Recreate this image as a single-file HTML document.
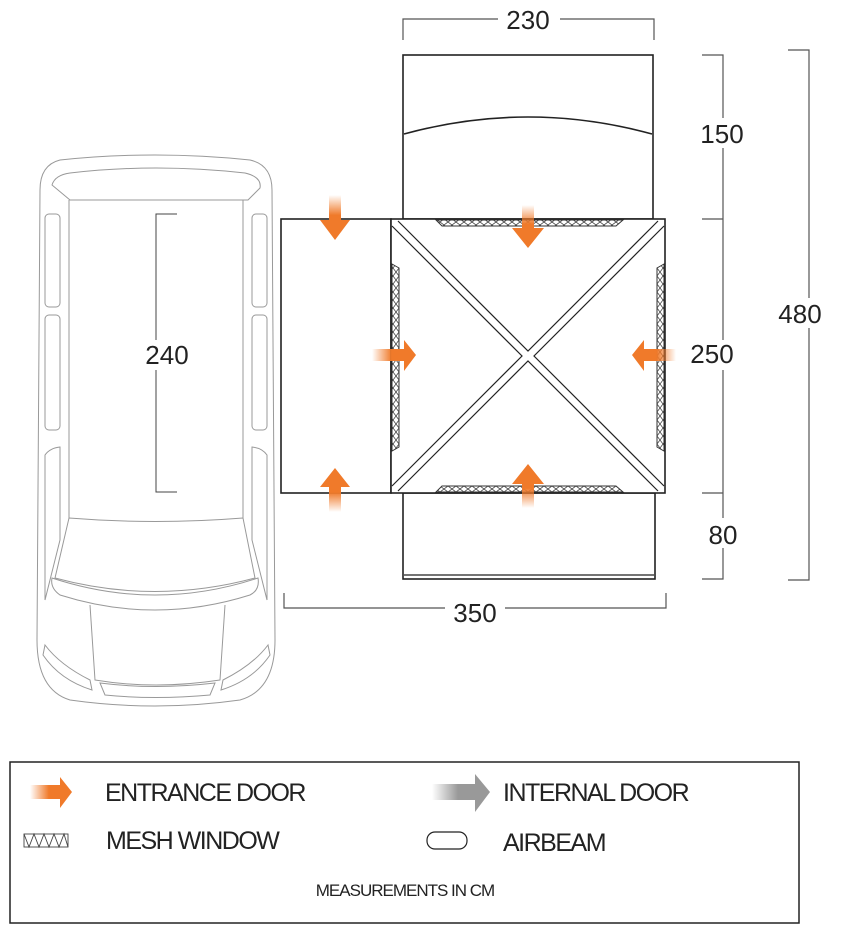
<!DOCTYPE html>
<html><head><style>
html,body{margin:0;padding:0;background:#fff;}
svg{display:block;}
text{font-family:"Liberation Sans",sans-serif;fill:#222;}
</style></head><body>
<svg width="860" height="937" viewBox="0 0 860 937" xmlns="http://www.w3.org/2000/svg">
<defs>
<pattern id="mesh" width="8" height="6" patternUnits="userSpaceOnUse">
<rect width="8" height="6" fill="#fff"/>
<path d="M0 0 L8 6 M8 0 L0 6" stroke="#444" stroke-width="0.8"/>
</pattern>
<pattern id="meshv" width="6" height="8" patternUnits="userSpaceOnUse">
<rect width="6" height="8" fill="#fff"/>
<path d="M0 0 L6 8 M6 0 L0 8" stroke="#444" stroke-width="0.8"/>
</pattern>
<linearGradient id="gR" x1="0" y1="0" x2="1" y2="0"><stop offset="0" stop-color="#f07a2a" stop-opacity="0"/><stop offset="0.45" stop-color="#f07a2a"/></linearGradient>
<linearGradient id="gL" x1="1" y1="0" x2="0" y2="0"><stop offset="0" stop-color="#f07a2a" stop-opacity="0"/><stop offset="0.45" stop-color="#f07a2a"/></linearGradient>
<linearGradient id="gD" x1="0" y1="0" x2="0" y2="1"><stop offset="0" stop-color="#f07a2a" stop-opacity="0"/><stop offset="0.45" stop-color="#f07a2a"/></linearGradient>
<linearGradient id="gU" x1="0" y1="1" x2="0" y2="0"><stop offset="0" stop-color="#f07a2a" stop-opacity="0"/><stop offset="0.45" stop-color="#f07a2a"/></linearGradient>
<linearGradient id="gG" x1="0" y1="0" x2="1" y2="0"><stop offset="0" stop-color="#999" stop-opacity="0"/><stop offset="0.45" stop-color="#999"/></linearGradient>
</defs>

<!-- Car -->
<g fill="none" stroke="#999" stroke-width="1">
<path d="M60 160 Q155 150 250 160 Q272 165 272 190 L275 640 Q275 690 240 700 Q155 712 70 700 Q37 690 37 640 L40 190 Q40 165 60 160 Z"/>
<path d="M52 185 Q55 175 70 173 Q155 163 245 173 Q262 177 260 188 L248 200 L70 200 Z"/>
<path d="M69 200 L69 518 M243 200 L243 518"/>
<path d="M69 518 Q155 525 243 518 L255 578 Q155 605 55 578 Z"/>
<path d="M52 578 Q155 612 258 578 Q260 590 250 595 Q155 625 60 595 Q50 588 52 578 Z"/>
<path d="M90 605 L95 680 Q155 690 220 680 L225 605"/>
<path d="M100 683 Q155 690 215 683 L210 695 Q155 700 105 695 Z"/>
<path d="M45 645 Q60 665 90 680 L92 690 Q60 680 43 655 Z"/>
<path d="M268 645 Q253 665 223 680 L221 690 Q253 680 270 655 Z"/>
<rect x="45" y="214" width="15" height="93" rx="4"/>
<rect x="45" y="315" width="15" height="115" rx="4"/>
<path d="M45 455 Q50 448 60 447 L60 540 L45 600 Z"/>
<rect x="252" y="214" width="15" height="93" rx="4"/>
<rect x="252" y="315" width="15" height="115" rx="4"/>
<path d="M267 455 Q262 448 252 447 L252 540 L267 600 Z"/>
</g>
<!-- 240 dim -->
<path d="M177 214 L156 214 L156 492 L177 492" fill="none" stroke="#444" stroke-width="1"/>
<rect x="138" y="340" width="40" height="30" fill="#fff"/>
<text x="167" y="364" font-size="26" text-anchor="middle">240</text>

<!-- Tent -->
<g stroke="#222" stroke-width="1.6" fill="#fff">
<rect x="403" y="55" width="250" height="164"/>
<rect x="281" y="219" width="110" height="274"/>
<rect x="403" y="493" width="252" height="86"/>
<rect x="391" y="219" width="274" height="274"/>
</g>
<path d="M404 134 Q528 100 652 134" fill="none" stroke="#222" stroke-width="1.6"/>
<line x1="404" y1="575" x2="654" y2="575" stroke="#222" stroke-width="1.2"/>
<!-- X beams -->
<g stroke="#222" stroke-width="1.2" fill="none">
<path d="M398 221 L528 351 L658 221"/>
<path d="M392 226 L522 356 L392 486"/>
<path d="M398 491 L528 361 L658 491"/>
<path d="M664 226 L534 356 L664 486"/>
</g>
<!-- mesh windows -->
<g stroke="#333" stroke-width="1">
<path d="M436 220 L623 220 L616 226 L442 226 Z" fill="url(#mesh)"/>
<path d="M436 492 L623 492 L616 486 L442 486 Z" fill="url(#mesh)"/>
<path d="M392 264 L399 268 L399 447 L392 451 Z" fill="url(#meshv)"/>
<path d="M664 264 L657 268 L657 447 L664 451 Z" fill="url(#meshv)"/>
</g>
<!-- Orange arrows -->
<g>
<path d="M329 195 L341 195 L341 220 L350 220 L335 240 L320 220 L329 220 Z" fill="url(#gD)"/>
<path d="M522 205 L534 205 L534 228 L544 228 L528 248 L512 228 L522 228 Z" fill="url(#gD)"/>
<path d="M329 512 L341 512 L341 487 L350 487 L335 468 L320 487 L329 487 Z" fill="url(#gU)"/>
<path d="M522 508 L534 508 L534 484 L544 484 L528 464 L512 484 L522 484 Z" fill="url(#gU)"/>
<path d="M372 349 L404 349 L404 340 L416 355 L404 371 L404 361 L372 361 Z" fill="url(#gR)"/>
<path d="M676 349 L644 349 L644 340 L632 355 L644 371 L644 361 L676 361 Z" fill="url(#gL)"/>
</g>

<!-- Dimensions -->
<g fill="none" stroke="#555" stroke-width="1.2">
<path d="M403 40 L403 19 L654 19 L654 40"/>
<path d="M702 55 L723 55 L723 579 L702 579"/>
<path d="M702 219 L723 219 M702 493 L723 493"/>
<path d="M788 50 L809 50 L809 580 L788 580"/>
<path d="M284 593 L284 608 L666 608 L666 593"/>
</g>
<g fill="#fff">
<rect x="498" y="5" width="62" height="30"/>
<rect x="695" y="118" width="55" height="30"/>
<rect x="685" y="340" width="55" height="30"/>
<rect x="700" y="518" width="45" height="30"/>
<rect x="770" y="298" width="60" height="30"/>
<rect x="445" y="595" width="60" height="28"/>
</g>
<g font-size="26" text-anchor="middle">
<text x="528" y="29">230</text>
<text x="722" y="143">150</text>
<text x="712" y="363">250</text>
<text x="723" y="544">80</text>
<text x="800" y="323">480</text>
<text x="475" y="622">350</text>
</g>

<!-- Legend -->
<rect x="10" y="762" width="789" height="161" fill="#fff" stroke="#222" stroke-width="1.5"/>
<path d="M30 785 L60 785 L60 777 L72 792 L60 808 L60 799 L30 799 Z" fill="url(#gR)"/>
<path d="M432 784 L475 784 L475 774 L490 792 L475 812 L475 800 L432 800 Z" fill="url(#gG)"/>
<g fill="none" stroke="#444" stroke-width="0.9">
<rect x="24" y="834" width="44" height="13"/>
<path d="M24 834 L29 847 L34 834 L39 847 L44 834 L49 847 L54 834 L59 847 L64 834 L68 847"/>
</g>
<rect x="427" y="832" width="40" height="17" rx="8" fill="#fff" stroke="#222" stroke-width="1.2"/>
<g font-size="25" style="letter-spacing:-1.5px">
<text x="105" y="801">ENTRANCE DOOR</text>
<text x="503" y="801">INTERNAL DOOR</text>
<text x="106" y="849">MESH WINDOW</text>
<text x="503" y="851">AIRBEAM</text>
</g>
<text x="405" y="896" font-size="17" text-anchor="middle" style="letter-spacing:-1px">MEASUREMENTS IN CM</text>
</svg>
</body></html>
